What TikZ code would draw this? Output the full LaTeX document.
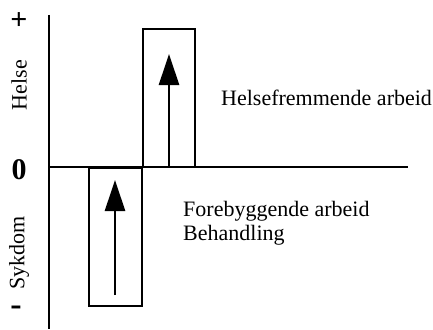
\documentclass[tikz,border=0pt]{standalone}
\usepackage{fontspec}
\setmainfont{Liberation Serif}
\usetikzlibrary{arrows.meta}
\begin{document}
\begin{tikzpicture}[x=1pt,y=-1pt,
  axis/.style={line width=2.6pt},
  bar/.style={draw,line width=2.6pt,inner sep=0pt,minimum width=52pt,minimum height=138pt},
  uparrow/.style={line width=2.6pt,-{Triangle[length=31pt,width=20pt]}},
  lbl/.style={font=\fontsize{22}{24}\selectfont,inner sep=0pt},
  side/.style={font=\fontsize{22}{24}\selectfont,inner sep=0pt,rotate=90}]
\useasboundingbox (0,0) rectangle (433,329);
% axes
\coordinate (ytop) at (49,15);
\coordinate (ybot) at (49,329);
\coordinate (xl) at (49,167);
\coordinate (xr) at (408,167);
\draw[axis] (ytop) -- (ybot);
\draw[axis] (xl) -- (xr);
% boxes
\node[bar] (up) at (169,98) {};
\node[bar,minimum width=53pt] (down) at (115.5,237) {};
% arrows
\coordinate (upbase) at (169,167);
\coordinate (uptip) at (169,54);
\coordinate (dnbase) at (115,295);
\coordinate (dntip) at (115,180);
\draw[uparrow] (upbase) -- (uptip);
\draw[uparrow] (dnbase) -- (dntip);
% axis labels
\node[lbl,font=\fontsize{30}{30}\selectfont\bfseries] (plus) at (19,21) {+};
\node[side] (helse) at (19,85) {Helse};
\node[lbl,font=\fontsize{30}{30}\selectfont\bfseries] (zero) at (19,170) {0};
\node[side] (sykdom) at (19,253) {Sykdom};
\node[lbl,font=\fontsize{34}{34}\selectfont\bfseries] (minus) at (16,311) {-};
% texts
\node[lbl,anchor=west] (hf) at (221,98) {Helsefremmende arbeid};
\node[lbl,anchor=north west,align=left] (fb) at (183,201) {Forebyggende arbeid\\Behandling};
\end{tikzpicture}
\end{document}
